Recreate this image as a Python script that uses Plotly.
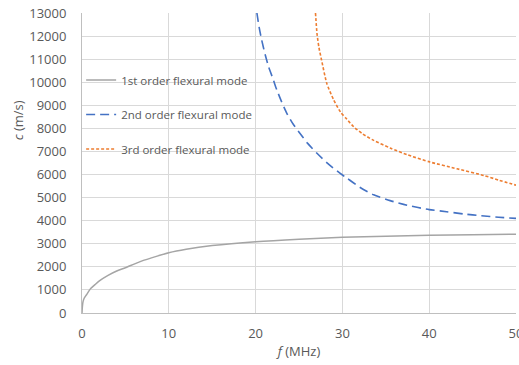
import plotly.graph_objects as go

# Data
f1 = [0, 0.05, 0.12, 0.25, 0.5, 1.0, 1.5, 2, 3, 4, 5, 6, 7, 8, 10, 12, 15, 20, 25, 30, 35, 40, 45, 50]
c1 = [0, 300, 490, 640, 780, 1060, 1230, 1390, 1630, 1820, 1960, 2120, 2270, 2390, 2610, 2760, 2920, 3090, 3200, 3280, 3330, 3370, 3395, 3410]

f2 = [20.15, 20.4, 20.7, 21.1, 21.5, 22.0, 22.45, 23.0, 23.6, 24.3, 25.1, 26.0, 27.07, 28.3, 29.75, 30.5, 32.0, 33.6, 35.5, 37.45, 40.0, 42.0, 44.0, 46.0, 48.0, 50.0]
c2 = [13000, 12400, 11830, 11200, 10670, 10150, 9660, 9150, 8650, 8200, 7790, 7350, 6920, 6480, 6050, 5850, 5450, 5120, 4870, 4670, 4480, 4390, 4290, 4215, 4150, 4100]

f3 = [26.9, 27.07, 27.3, 27.6, 28.2, 29.0, 29.8, 30.5, 31.3, 32.3, 33.6, 35.5, 37.45, 40.1, 43.2, 46.3, 48.0, 50]
c3 = [13000, 12120, 11500, 10960, 9950, 9230, 8700, 8400, 8070, 7770, 7480, 7150, 6860, 6540, 6250, 5960, 5760, 5540]

names = ["1st order flexural mode", "2nd order flexural mode", "3rd order flexural mode"]
colors = ["#a5a5a5", "#4472c4", "#ed7d31"]
dashes = ["solid", "9px,5px", "3px,2px"]
widths = [1.5, 1.6, 1.6]

FONT = "Open Sans"
TXT = "#595959"

fig = go.Figure()
for i, (x, y) in enumerate([(f1, c1), (f2, c2), (f3, c3)]):
    fig.add_trace(go.Scatter(
        x=x, y=y, mode="lines", name=names[i], legendgroup=str(i),
        line=dict(color=colors[i], width=widths[i], dash=dashes[i], shape="spline", smoothing=0.6),
    ))

fig.update_layout(
    width=519, height=365,
    margin=dict(l=82, r=3, t=13, b=52),
    paper_bgcolor="white", plot_bgcolor="white",
    font=dict(family=FONT, color=TXT, size=12),
    showlegend=True,
    legend=dict(
        x=-0.002, y=0.825, xanchor="left", yanchor="top",
        bgcolor="rgba(0,0,0,0)", traceorder="grouped", tracegroupgap=15.5,
        font=dict(family=FONT, size=11.5, color=TXT), itemwidth=30,
    ),
    xaxis=dict(
        range=[0, 50], dtick=10, tick0=0, automargin=False,
        showgrid=True, gridcolor="#d9d9d9", gridwidth=1,
        showline=True, linecolor="#bfbfbf", linewidth=1,
        zeroline=False, ticks="", ticklabelstandoff=8, ticklabeloverflow="allow",
        tickfont=dict(family=FONT, size=13, color=TXT),
        title=dict(text="<i>f</i> (MHz)", font=dict(family=FONT, size=13, color=TXT), standoff=6),
    ),
    yaxis=dict(
        range=[0, 13000], dtick=1000, tick0=0, tickformat="d", automargin=False,
        showgrid=True, gridcolor="#d9d9d9", gridwidth=1,
        showline=True, linecolor="#bfbfbf", linewidth=1,
        zeroline=False, ticks="", ticklabelstandoff=12, ticklabeloverflow="allow",
        tickfont=dict(family=FONT, size=13, color=TXT),
    ),
    annotations=[dict(
        text="<i>c</i> (m/s)", xref="paper", yref="paper",
        x=-0.147, y=0.643, xanchor="center", yanchor="middle",
        textangle=-90, showarrow=False,
        font=dict(family=FONT, size=13, color=TXT),
    )],
)

fig.write_html("out.html")
